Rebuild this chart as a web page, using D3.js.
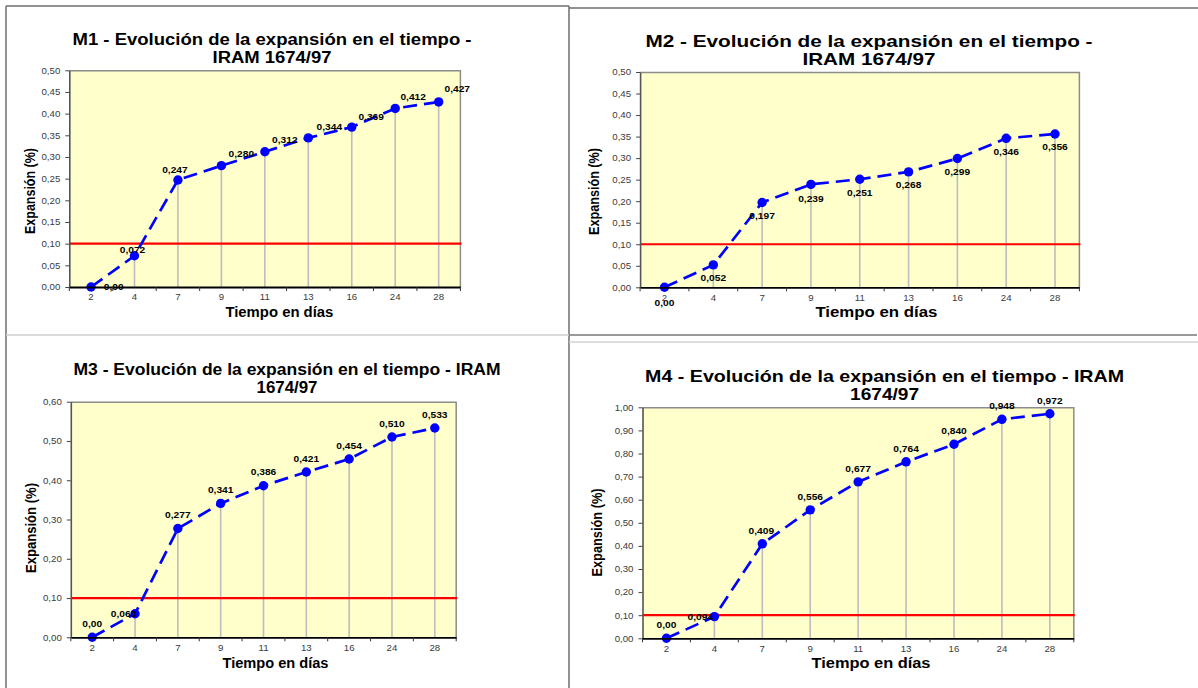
<!DOCTYPE html>
<html>
<head>
<meta charset="utf-8">
<script src="https://cdn.jsdelivr.net/npm/d3@7"></script>
<style>
  body { margin: 0; background: #fff; }
  svg { display: block; font-family: "Liberation Sans", Arial, sans-serif; }
</style>
</head>
<body>
<div id="chart"></div>
<script>
// Tiempo en días (categorías del eje x)
const dias = ["2", "4", "7", "9", "11", "13", "16", "24", "28"];

// Expansión (%) por muestra
const expansionM1 = [0, 0.072, 0.247, 0.280, 0.312, 0.344, 0.369, 0.412, 0.427];
const expansionM2 = [0, 0.052, 0.197, 0.239, 0.251, 0.268, 0.299, 0.346, 0.356];
const expansionM3 = [0, 0.060, 0.277, 0.341, 0.386, 0.421, 0.454, 0.510, 0.533];
const expansionM4 = [0, 0.094, 0.409, 0.556, 0.677, 0.764, 0.840, 0.948, 0.972];

// Límite IRAM 1674/97
const limite = 0.10;

// Marcas del eje y
const yTicks050 = [0, 0.05, 0.10, 0.15, 0.20, 0.25, 0.30, 0.35, 0.40, 0.45, 0.50];
const yTicks060 = [0, 0.10, 0.20, 0.30, 0.40, 0.50, 0.60];
const yTicks100 = [0, 0.10, 0.20, 0.30, 0.40, 0.50, 0.60, 0.70, 0.80, 0.90, 1.00];

const titulos = [
  ["M1 - Evolución de la expansión en el tiempo -", "IRAM 1674/97"],
  ["M2 - Evolución de la expansión en el tiempo -", "IRAM 1674/97"],
  ["M3 - Evolución de la expansión en el tiempo - IRAM", "1674/97"],
  ["M4 - Evolución de la expansión en el tiempo - IRAM", "1674/97"]
];
const tituloY = "Expansión (%)";
const tituloX = "Tiempo en días";

const locale = d3.formatLocale({decimal: ",", thousands: ".", grouping: [3], currency: ["$", ""]});
const fmtTick = locale.format(".2f");
const fmtLabel = v => v === 0 ? fmtTick(v) : locale.format(".3f")(v);

const svg = d3.select("#chart").append("svg")
    .attr("width", 1198)
    .attr("height", 688);

// stretch text horizontally like the scanned original
function stretch(sel, sx) {
  sel.each(function() {
    const len = this.getComputedTextLength();
    d3.select(this).attr("textLength", len * sx).attr("lengthAdjust", "spacingAndGlyphs");
  });
}

class ExpansionChart {

  constructor(_config, _data) {
    this.config = _config;
    this.data = _data;
    this.initVis();
  }

  initVis() {
    let vis = this;
    const c = vis.config;

    vis.width = c.plot.right - c.plot.left;
    vis.height = c.plot.bottom - c.plot.top;

    vis.xScale = d3.scaleBand()
        .domain(dias)
        .range([0, vis.width])
        .padding(0);

    vis.yScale = d3.scaleLinear()
        .domain(d3.extent(c.yTicks))
        .range([vis.height, 0]);

    vis.chart = svg.append("g")
        .attr("transform", `translate(${c.plot.left},${c.plot.top})`);

    vis.renderVis();
    vis.addLabels();
  }

  renderVis() {
    let vis = this;
    const c = vis.config;
    const xc = (d, i) => vis.xScale(dias[i]) + vis.xScale.bandwidth() / 2;

    vis.chart.append("rect")
        .attr("width", vis.width)
        .attr("height", vis.height)
        .attr("fill", "#ffffcc");

    // top and right frame
    vis.chart.append("path")
        .attr("d", `M0,0.5H${vis.width}V${vis.height}`)
        .attr("fill", "none")
        .attr("stroke", "#8c8c8c")
        .attr("stroke-width", 1.5);

    // drop lines
    vis.chart.selectAll(".drop")
        .data(vis.data)
      .join("line")
        .attr("class", "drop")
        .attr("x1", xc)
        .attr("x2", xc)
        .attr("y1", d => vis.yScale(d))
        .attr("y2", vis.height)
        .attr("stroke", "#bdbdbd")
        .attr("stroke-width", 1.6);

    // limit line
    vis.chart.append("line")
        .attr("x1", 0)
        .attr("x2", vis.width + 1)
        .attr("y1", vis.yScale(limite))
        .attr("y2", vis.yScale(limite))
        .attr("stroke", "#ff0000")
        .attr("stroke-width", 2.2);

    const line = d3.line()
        .x(xc)
        .y(d => vis.yScale(d));

    vis.chart.append("path")
        .datum(vis.data)
        .attr("d", line)
        .attr("fill", "none")
        .attr("stroke", "#0000ff")
        .attr("stroke-width", 2.7)
        .attr("stroke-dasharray", "14,7");

    vis.chart.selectAll(".dot")
        .data(vis.data)
      .join("circle")
        .attr("class", "dot")
        .attr("cx", xc)
        .attr("cy", d => vis.yScale(d))
        .attr("r", 4.7)
        .attr("fill", "#0000ff");

    vis.chart.selectAll(".val")
        .data(vis.data)
      .join("text")
        .attr("class", "val")
        .attr("x", (d, i) => xc(d, i) + c.labelOffsets[i][0])
        .attr("y", (d, i) => vis.yScale(d) + c.labelOffsets[i][1])
        .attr("dy", "0.35em")
        .attr("text-anchor", "middle")
        .attr("font-size", "8.5px")
        .attr("font-weight", "bold")
        .attr("fill", "#000")
        .text(fmtLabel)
        .call(stretch, 1.2);

    // axes
    vis.yAxis = d3.axisLeft(vis.yScale)
        .tickValues(c.yTicks)
        .tickFormat(fmtTick)
        .tickSize(4)
        .tickSizeOuter(0)
        .tickPadding(5);

    vis.xAxis = d3.axisBottom(vis.xScale)
        .tickSize(0)
        .tickSizeOuter(0)
        .tickPadding(7);

    vis.yAxisG = vis.chart.append("g").call(vis.yAxis);
    vis.yAxisG.select(".domain").attr("stroke", "#555").attr("stroke-width", 1.6);
    vis.yAxisG.selectAll(".tick line").attr("stroke", "#444");

    vis.xAxisG = vis.chart.append("g")
        .attr("transform", `translate(0,${vis.height})`)
        .call(vis.xAxis);
    vis.xAxisG.select(".domain").attr("stroke", "#000").attr("stroke-width", 1.8);

    // category boundary ticks
    vis.xAxisG.selectAll(".edge")
        .data(d3.range(dias.length + 1))
      .join("line")
        .attr("class", "edge")
        .attr("x1", i => i * vis.xScale.step())
        .attr("x2", i => i * vis.xScale.step())
        .attr("y1", 0)
        .attr("y2", 4)
        .attr("stroke", "#333");

    [vis.yAxisG, vis.xAxisG].forEach(g => {
      g.attr("font-family", null).attr("font-size", null);
      g.selectAll(".tick text")
          .attr("font-size", "8.8px")
          .attr("fill", "#3a3a3a")
          .call(stretch, 1.1);
    });
  }

  addLabels() {
    let vis = this;
    const c = vis.config;

    const t = svg.append("g")
        .attr("font-weight", "bold")
        .attr("fill", "#000")
        .attr("text-anchor", "middle");

    t.append("text")
        .attr("x", c.title.cx)
        .attr("y", c.title.y1)
        .attr("font-size", c.title.size + "px")
        .attr("textLength", c.title.w1)
        .attr("lengthAdjust", "spacingAndGlyphs")
        .text(c.title.text[0]);

    t.append("text")
        .attr("x", c.title.cx)
        .attr("y", c.title.y2)
        .attr("font-size", c.title.size + "px")
        .attr("textLength", c.title.w2)
        .attr("lengthAdjust", "spacingAndGlyphs")
        .text(c.title.text[1]);

    t.append("text")
        .attr("transform", `translate(${c.yTitle.x},${c.yTitle.cy}) rotate(-90)`)
        .attr("font-size", "14px")
        .attr("textLength", c.yTitle.w)
        .attr("lengthAdjust", "spacingAndGlyphs")
        .text(tituloY);

    t.append("text")
        .attr("x", c.xTitle.cx)
        .attr("y", c.xTitle.y)
        .attr("font-size", "14px")
        .attr("textLength", c.xTitle.w)
        .attr("lengthAdjust", "spacingAndGlyphs")
        .text(tituloX);
  }
}

// panel frames
const frames = [
  {x1: 6, y1: 6, x2: 6, y2: 688, c: "#6e6e6e"},
  {x1: 6, y1: 6, x2: 569, y2: 6, c: "#6e6e6e"},
  {x1: 569, y1: 6, x2: 569, y2: 688, c: "#6e6e6e"},
  {x1: 569, y1: 8, x2: 1198, y2: 8, c: "#6e6e6e"},
  {x1: 6, y1: 335, x2: 569, y2: 335, c: "#cfcfcf"},
  {x1: 569, y1: 335, x2: 1197, y2: 335, c: "#777"},
  {x1: 569, y1: 342, x2: 1198, y2: 342, c: "#d2d2d2"}
];
svg.selectAll(".frame")
    .data(frames)
  .join("line")
    .attr("class", "frame")
    .attr("x1", d => d.x1).attr("y1", d => d.y1)
    .attr("x2", d => d.x2).attr("y2", d => d.y2)
    .attr("stroke", d => d.c)
    .attr("stroke-width", 1.5);

new ExpansionChart({
  yTicks: yTicks050,
  plot: {left: 69.3, right: 460.4, top: 70.3, bottom: 287},
  title: {text: titulos[0], cx: 272, y1: 45, y2: 63.3, size: 16, w1: 399, w2: 119},
  yTitle: {x: 34.5, cy: 191, w: 86},
  xTitle: {cx: 279.4, y: 316.7, w: 108},
  labelOffsets: [[22.7, 0], [-2, -6], [-3, -10], [20, -11.6], [20, -12], [21, -10.6], [19.4, -10.4], [18, -11], [18.6, -12.7]]
}, expansionM1);

new ExpansionChart({
  yTicks: yTicks050,
  plot: {left: 640.1, right: 1079.4, top: 72, bottom: 287.3},
  title: {text: titulos[1], cx: 869, y1: 46.7, y2: 65, size: 17, w1: 447, w2: 133},
  yTitle: {x: 599, cy: 191.5, w: 87},
  xTitle: {cx: 876.4, y: 316.7, w: 122},
  labelOffsets: [[0, 16], [0, 13.4], [0, 13.5], [0, 14.6], [0, 13.5], [0, 13.5], [0, 13.5], [0, 13.5], [0, 13.5]]
}, expansionM2);

new ExpansionChart({
  yTicks: yTicks060,
  plot: {left: 70.8, right: 456.2, top: 401.7, bottom: 637.3},
  title: {text: titulos[2], cx: 287, y1: 375, y2: 393.3, size: 16, w1: 427, w2: 61},
  yTitle: {x: 35.5, cy: 528, w: 90},
  xTitle: {cx: 275.5, y: 668.3, w: 106},
  labelOffsets: [[0, -13], [-11.4, 0], [0, -13.5], [0, -13.4], [0, -13.4], [0, -13.4], [0, -13.4], [0, -13.4], [0, -13.4]]
}, expansionM3);

new ExpansionChart({
  yTicks: yTicks100,
  plot: {left: 642.5, right: 1073.8, top: 407.3, bottom: 638.3},
  title: {text: titulos[3], cx: 884.6, y1: 382.2, y2: 400.3, size: 16.2, w1: 479, w2: 69},
  yTitle: {x: 602, cy: 532.5, w: 88},
  xTitle: {cx: 871, y: 668.3, w: 119},
  labelOffsets: [[0, -13.3], [-14, 0], [-1, -13], [0, -13], [0, -13], [0, -13], [0, -13], [0, -13], [0, -12.8]]
}, expansionM4);
</script>
</body>
</html>
